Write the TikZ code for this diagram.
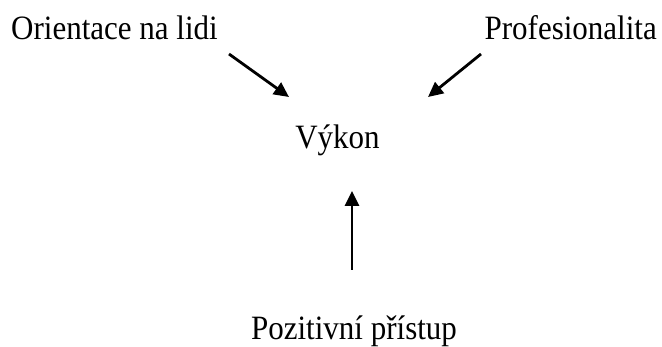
\documentclass[tikz,border=0pt]{standalone}
\usepackage{fontspec}
\setmainfont{Liberation Serif}
\usetikzlibrary{arrows.meta}
\newcommand{\tallword}[1]{\scalebox{1}[1.1]{#1}}
\begin{document}
\begin{tikzpicture}[x=1pt,y=-1pt,
  label/.style={inner sep=0pt,font=\fontsize{31}{37}\selectfont},
  link/.style={line width=2.8pt,-{Triangle[length=15pt,width=14pt]}}]
\useasboundingbox (0,0) rectangle (662,347);
% labels
\node[label,anchor=base west] (people) at (11,40) {\tallword{Orientace na lidi}};
\node[label,anchor=base east] (prof) at (657,40) {\tallword{Profesionalita}};
\node[label,anchor=base] (perf) at (337.5,148.5) {\tallword{Výkon}};
\node[label,anchor=base] (attitude) at (354,340) {\tallword{Pozitivní přístup}};
% arrow ends
\coordinate (a1s) at (229,54);
\coordinate (a1e) at (289,97);
\coordinate (a2s) at (481,54);
\coordinate (a2e) at (428,97);
\coordinate (a3s) at (352,270);
\coordinate (a3e) at (352,191);
% arrows
\draw[link] (a1s) -- (a1e);
\draw[link] (a2s) -- (a2e);
\draw[link] (a3s) -- (a3e);
\end{tikzpicture}
\end{document}
